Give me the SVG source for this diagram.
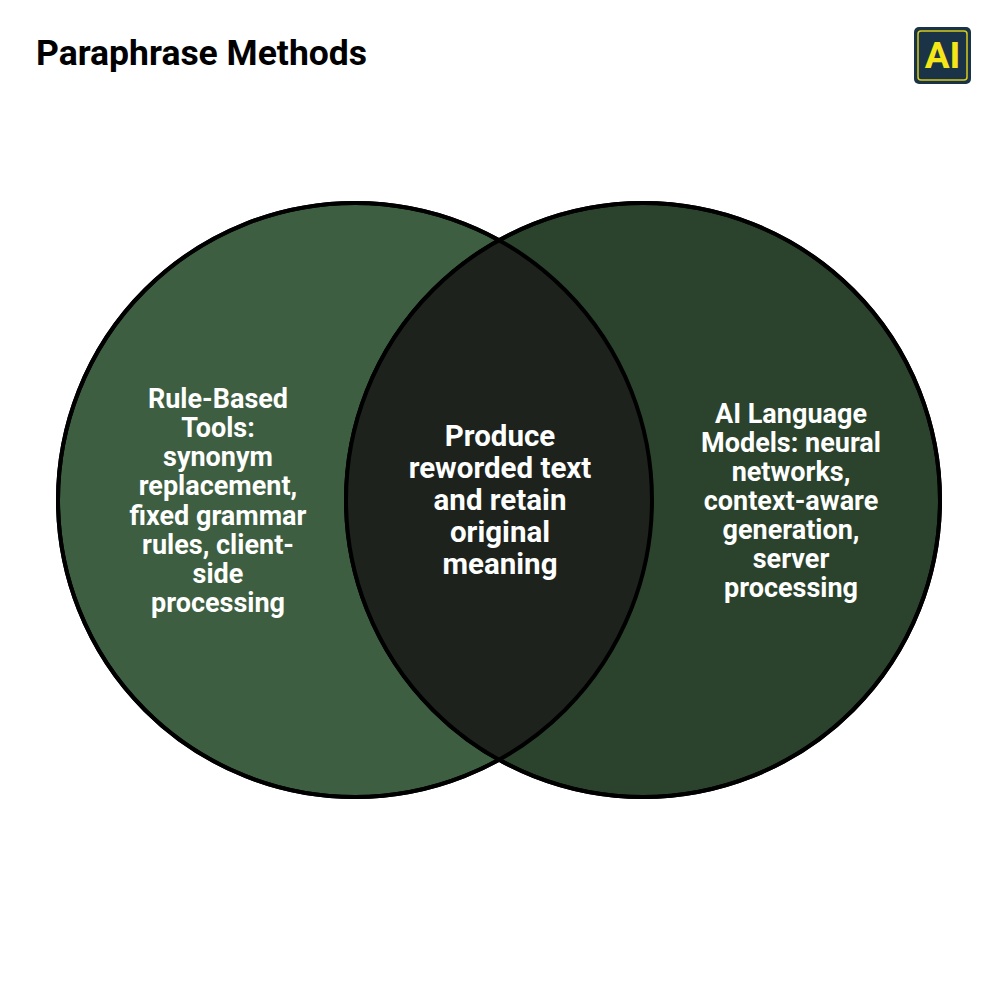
<svg xmlns="http://www.w3.org/2000/svg" width="1000" height="1000" viewBox="0 0 1000 1000">
<style>
.t{font-family:Roboto,"Liberation Sans",sans-serif;font-weight:bold;font-size:27px;fill:#fff;text-anchor:middle}
.m{font-size:29.5px}
.c{stroke:#000;stroke-width:4}
</style>
<defs><clipPath id="cl"><circle cx="355" cy="500" r="297"/></clipPath></defs>
<rect width="1000" height="1000" fill="#fff"/>
<text x="36" y="65" font-family="Roboto,'Liberation Sans',sans-serif" font-weight="bold" font-size="35.5" fill="#000">Paraphrase Methods</text>
<g id="logo">
<rect x="914" y="27" width="57" height="57" rx="5" fill="#1a3347"/>
<rect x="918" y="31" width="49" height="49" rx="3" fill="none" stroke="#d8cc1c" stroke-width="1.5"/>
<text x="942.5" y="68" text-anchor="middle" font-family="Roboto,'Liberation Sans',sans-serif" font-weight="bold" font-size="37" fill="#f5e617">AI</text>
</g>
<g id="left"><circle class="c" cx="355" cy="500" r="297" fill="#3d5e40"/></g>
<g id="right"><circle class="c" cx="643" cy="500" r="297" fill="#2b432d"/></g>
<g id="overlap">
<circle cx="643" cy="500" r="297" fill="#1d221d" clip-path="url(#cl)"/>
<circle cx="355" cy="500" r="297" fill="none" class="c"/>
<circle cx="643" cy="500" r="297" fill="none" class="c"/>
</g>
<g id="left-text"><text class="t">
<tspan x="218" y="408">Rule-Based</tspan><tspan x="218" y="437">Tools:</tspan><tspan x="218" y="466">synonym</tspan><tspan x="218" y="495">replacement,</tspan><tspan x="218" y="525">fixed grammar</tspan><tspan x="218" y="554">rules, client-</tspan><tspan x="218" y="583">side</tspan><tspan x="218" y="612">processing</tspan></text></g>
<g id="mid-text"><text class="t m">
<tspan x="500" y="446">Produce</tspan><tspan x="500" y="478">reworded text</tspan><tspan x="500" y="510">and retain</tspan><tspan x="500" y="542">original</tspan><tspan x="500" y="574">meaning</tspan></text></g>
<g id="right-text"><text class="t">
<tspan x="791" y="423">AI Language</tspan><tspan x="791" y="452">Models: neural</tspan><tspan x="791" y="481">networks,</tspan><tspan x="791" y="510">context-aware</tspan><tspan x="791" y="539">generation,</tspan><tspan x="791" y="568">server</tspan><tspan x="791" y="597">processing</tspan></text></g>
</svg>
